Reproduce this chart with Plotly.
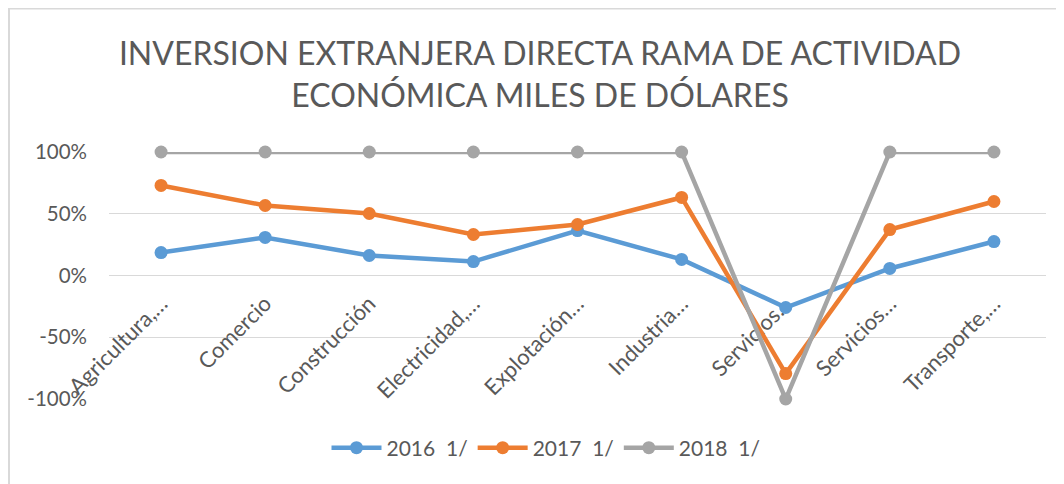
import plotly.graph_objects as go

categories = ["Agricultura,…", "Comercio", "Construcción", "Electricidad,…", "Explotación…",
              "Industria…", "Servicios…", "Servicios…", "Transporte,…"]
series_names = ["2016  1/", "2017  1/", "2018  1/"]
v2016 = [18.6, 30.8, 16.2, 11.3, 36.4, 13.0, -25.9, 5.7, 27.5]
v2017 = [72.9, 56.7, 50.2, 33.2, 41.3, 63.2, -79.4, 37.2, 59.9]
v2018 = [100, 100, 100, 100, 100, 100, -100, 100, 100]
colors = ["#5B9BD5", "#ED7D31", "#A5A5A5"]
y_ticks = [-100, -50, 0, 50, 100]
y_ticktext = ["-100%", "-50%", "0%", "50%", "100%"]

# page renders figure offset by 8px (body margin); positions below are in figure px
OFF = 8
W, H = 1064, 484
L, R, T, B = 109 - OFF, 18 + OFF, 152 - OFF, 85 + OFF
PW, PH = W - L - R, H - T - B
FONT = "Lato"
TXT = "#595959"

xs = list(range(len(categories)))
fig = go.Figure()
for name, vals, c in zip(series_names, [v2016, v2017, v2018], colors):
    fig.add_trace(go.Scatter(
        x=xs, y=vals, name=name.replace(" ", "\u00a0"), mode="lines+markers",
        line=dict(color=c, width=4.5), marker=dict(color=c, size=13),
        cliponaxis=False,
    ))

fig.update_layout(
    width=W, height=H,
    margin=dict(l=L, r=R, t=T, b=B, autoexpand=False),
    paper_bgcolor="white", plot_bgcolor="white",
    font=dict(family=FONT, color=TXT, size=20),
    title=dict(
        text="INVERSION EXTRANJERA DIRECTA RAMA DE ACTIVIDAD<br>ECONÓMICA MILES DE DÓLARES",
        x=(540 - OFF) / W, xanchor="center", xref="container",
        y=1 - 57 / H, yanchor="top", yref="container",
        font=dict(family=FONT, size=32, color=TXT),
    ),
    legend=dict(
        orientation="h", x=(546 - OFF) / W, xanchor="center", xref="container",
        y=1 - (448 - OFF) / H, yanchor="middle", yref="container",
        font=dict(size=21, color=TXT), itemwidth=50,
    ),
    xaxis=dict(
        range=[-0.5, len(categories) - 0.5],
        tickvals=xs, ticktext=categories, tickangle=-45,
        anchor="free", position=0.5, showgrid=False, showline=False,
        ticks="", zeroline=False, layer="below traces", automargin=False,
        ticklabelstandoff=10,
        tickfont=dict(size=22, color=TXT),
    ),
    yaxis=dict(
        range=[-100, 100], tickvals=y_ticks, ticktext=y_ticktext,
        showgrid=True, gridcolor="#D9D9D9", gridwidth=1,
        zeroline=False, showline=False, ticks="", automargin=False,
        ticklabelstandoff=21,
        tickfont=dict(size=20.5, color=TXT),
    ),
    showlegend=True,
)

# chart border (cropped on right/bottom)
bx = -(L - 1) / PW
by = 1 + (T - 0) / PH
fig.add_shape(type="line", xref="paper", yref="paper",
              x0=bx, x1=1.1, y0=by, y1=by, line=dict(color="#D9D9D9", width=3))
fig.add_shape(type="line", xref="paper", yref="paper",
              x0=bx, x1=bx, y0=by, y1=-0.5, line=dict(color="#D9D9D9", width=2))

fig.write_html("out.html")
